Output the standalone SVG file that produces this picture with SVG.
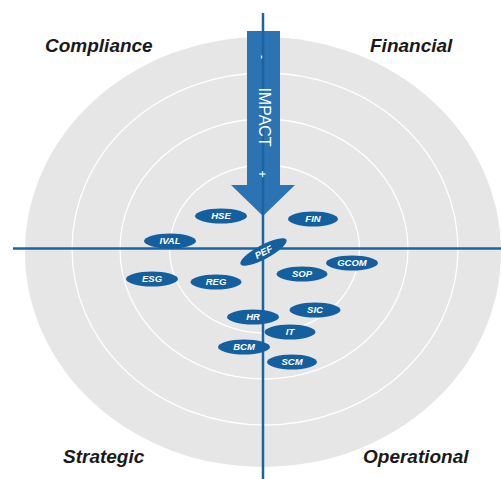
<svg xmlns="http://www.w3.org/2000/svg" width="501" height="479" viewBox="0 0 501 479">
  <style>
    .ring { fill: none; stroke: #ffffff; stroke-width: 1.3; }
    .axis { stroke: #1b64a2; stroke-width: 2.5; }
    .node ellipse { fill: #135f9f; }
    .node text { font-family: "Liberation Sans", Arial, sans-serif; font-size: 9.5px; font-weight: bold; font-style: italic; fill: #ffffff; text-anchor: middle; }
    .quad { font-family: "Liberation Sans", Arial, sans-serif; font-size: 19px; font-weight: bold; font-style: italic; fill: #1a1a1a; }
    .impact { font-family: "Liberation Sans", Arial, sans-serif; fill: #ffffff; text-anchor: middle; }
  </style>

  <!-- target background with concentric rings -->
  <g id="target">
    <ellipse cx="263" cy="252" rx="238" ry="215" fill="#e6e6e6"/>
    <ellipse class="ring" cx="265" cy="249" rx="193" ry="176"/>
    <ellipse class="ring" cx="264" cy="249" rx="144" ry="130"/>
    <ellipse class="ring" cx="264.5" cy="249" rx="95" ry="84"/>
  </g>

  <!-- impact arrow -->
  <g id="impact">
    <polygon points="247,31 280,31 280,185 295,185 263,216 231,185 247,185" fill="#2c73b3"/>
  </g>

  <!-- axes -->
  <g id="connectors">
    <line class="axis" x1="263" y1="13" x2="263" y2="479"/>
    <line class="axis" x1="13" y1="248.5" x2="501" y2="248.5"/>
  </g>

  <g id="impact-labels" class="impact">
    <text transform="translate(258,57) rotate(90)" font-size="12">-</text>
    <text transform="translate(258.5,117) rotate(90)" font-size="16">IMPACT</text>
    <text transform="translate(258,174) rotate(90)" font-size="13">+</text>
  </g>

  <!-- quadrant titles -->
  <text class="quad" x="45" y="52">Compliance</text>
  <text class="quad" x="370" y="52">Financial</text>
  <text class="quad" x="63" y="463">Strategic</text>
  <text class="quad" x="363" y="463">Operational</text>

  <!-- risk nodes -->
  <g id="node-hse" class="node"><ellipse cx="221" cy="216" rx="26" ry="7.5"/><text x="221" y="219.4">HSE</text></g>
  <g id="node-fin" class="node"><ellipse cx="313" cy="219" rx="25" ry="7.5"/><text x="313" y="222.4">FIN</text></g>
  <g id="node-ival" class="node"><ellipse cx="170" cy="241" rx="26" ry="7.5"/><text x="170" y="244.4">IVAL</text></g>
  <g id="node-pef" class="node" transform="translate(263.5,252) rotate(-28)"><ellipse cx="0" cy="0" rx="26" ry="7"/><text x="0" y="3.4">PEF</text></g>
  <g id="node-gcom" class="node"><ellipse cx="352" cy="263" rx="26" ry="7.5"/><text x="352" y="266.4">GCOM</text></g>
  <g id="node-sop" class="node"><ellipse cx="302" cy="274" rx="25.5" ry="7.5"/><text x="302" y="277.4">SOP</text></g>
  <g id="node-esg" class="node"><ellipse cx="152" cy="279" rx="26" ry="7.5"/><text x="152" y="282.4">ESG</text></g>
  <g id="node-reg" class="node"><ellipse cx="216" cy="282" rx="25.5" ry="7.5"/><text x="216" y="285.4">REG</text></g>
  <g id="node-sic" class="node"><ellipse cx="315" cy="310" rx="25.5" ry="7.5"/><text x="315" y="313.4">SIC</text></g>
  <g id="node-hr" class="node"><ellipse cx="253" cy="317" rx="26" ry="7.5"/><text x="253" y="320.4">HR</text></g>
  <g id="node-it" class="node"><ellipse cx="290" cy="332" rx="25.5" ry="7.5"/><text x="290" y="335.4">IT</text></g>
  <g id="node-bcm" class="node"><ellipse cx="244" cy="347" rx="26" ry="7.5"/><text x="244" y="350.4">BCM</text></g>
  <g id="node-scm" class="node"><ellipse cx="292" cy="362" rx="25" ry="7.5"/><text x="292" y="365.4">SCM</text></g>
</svg>
